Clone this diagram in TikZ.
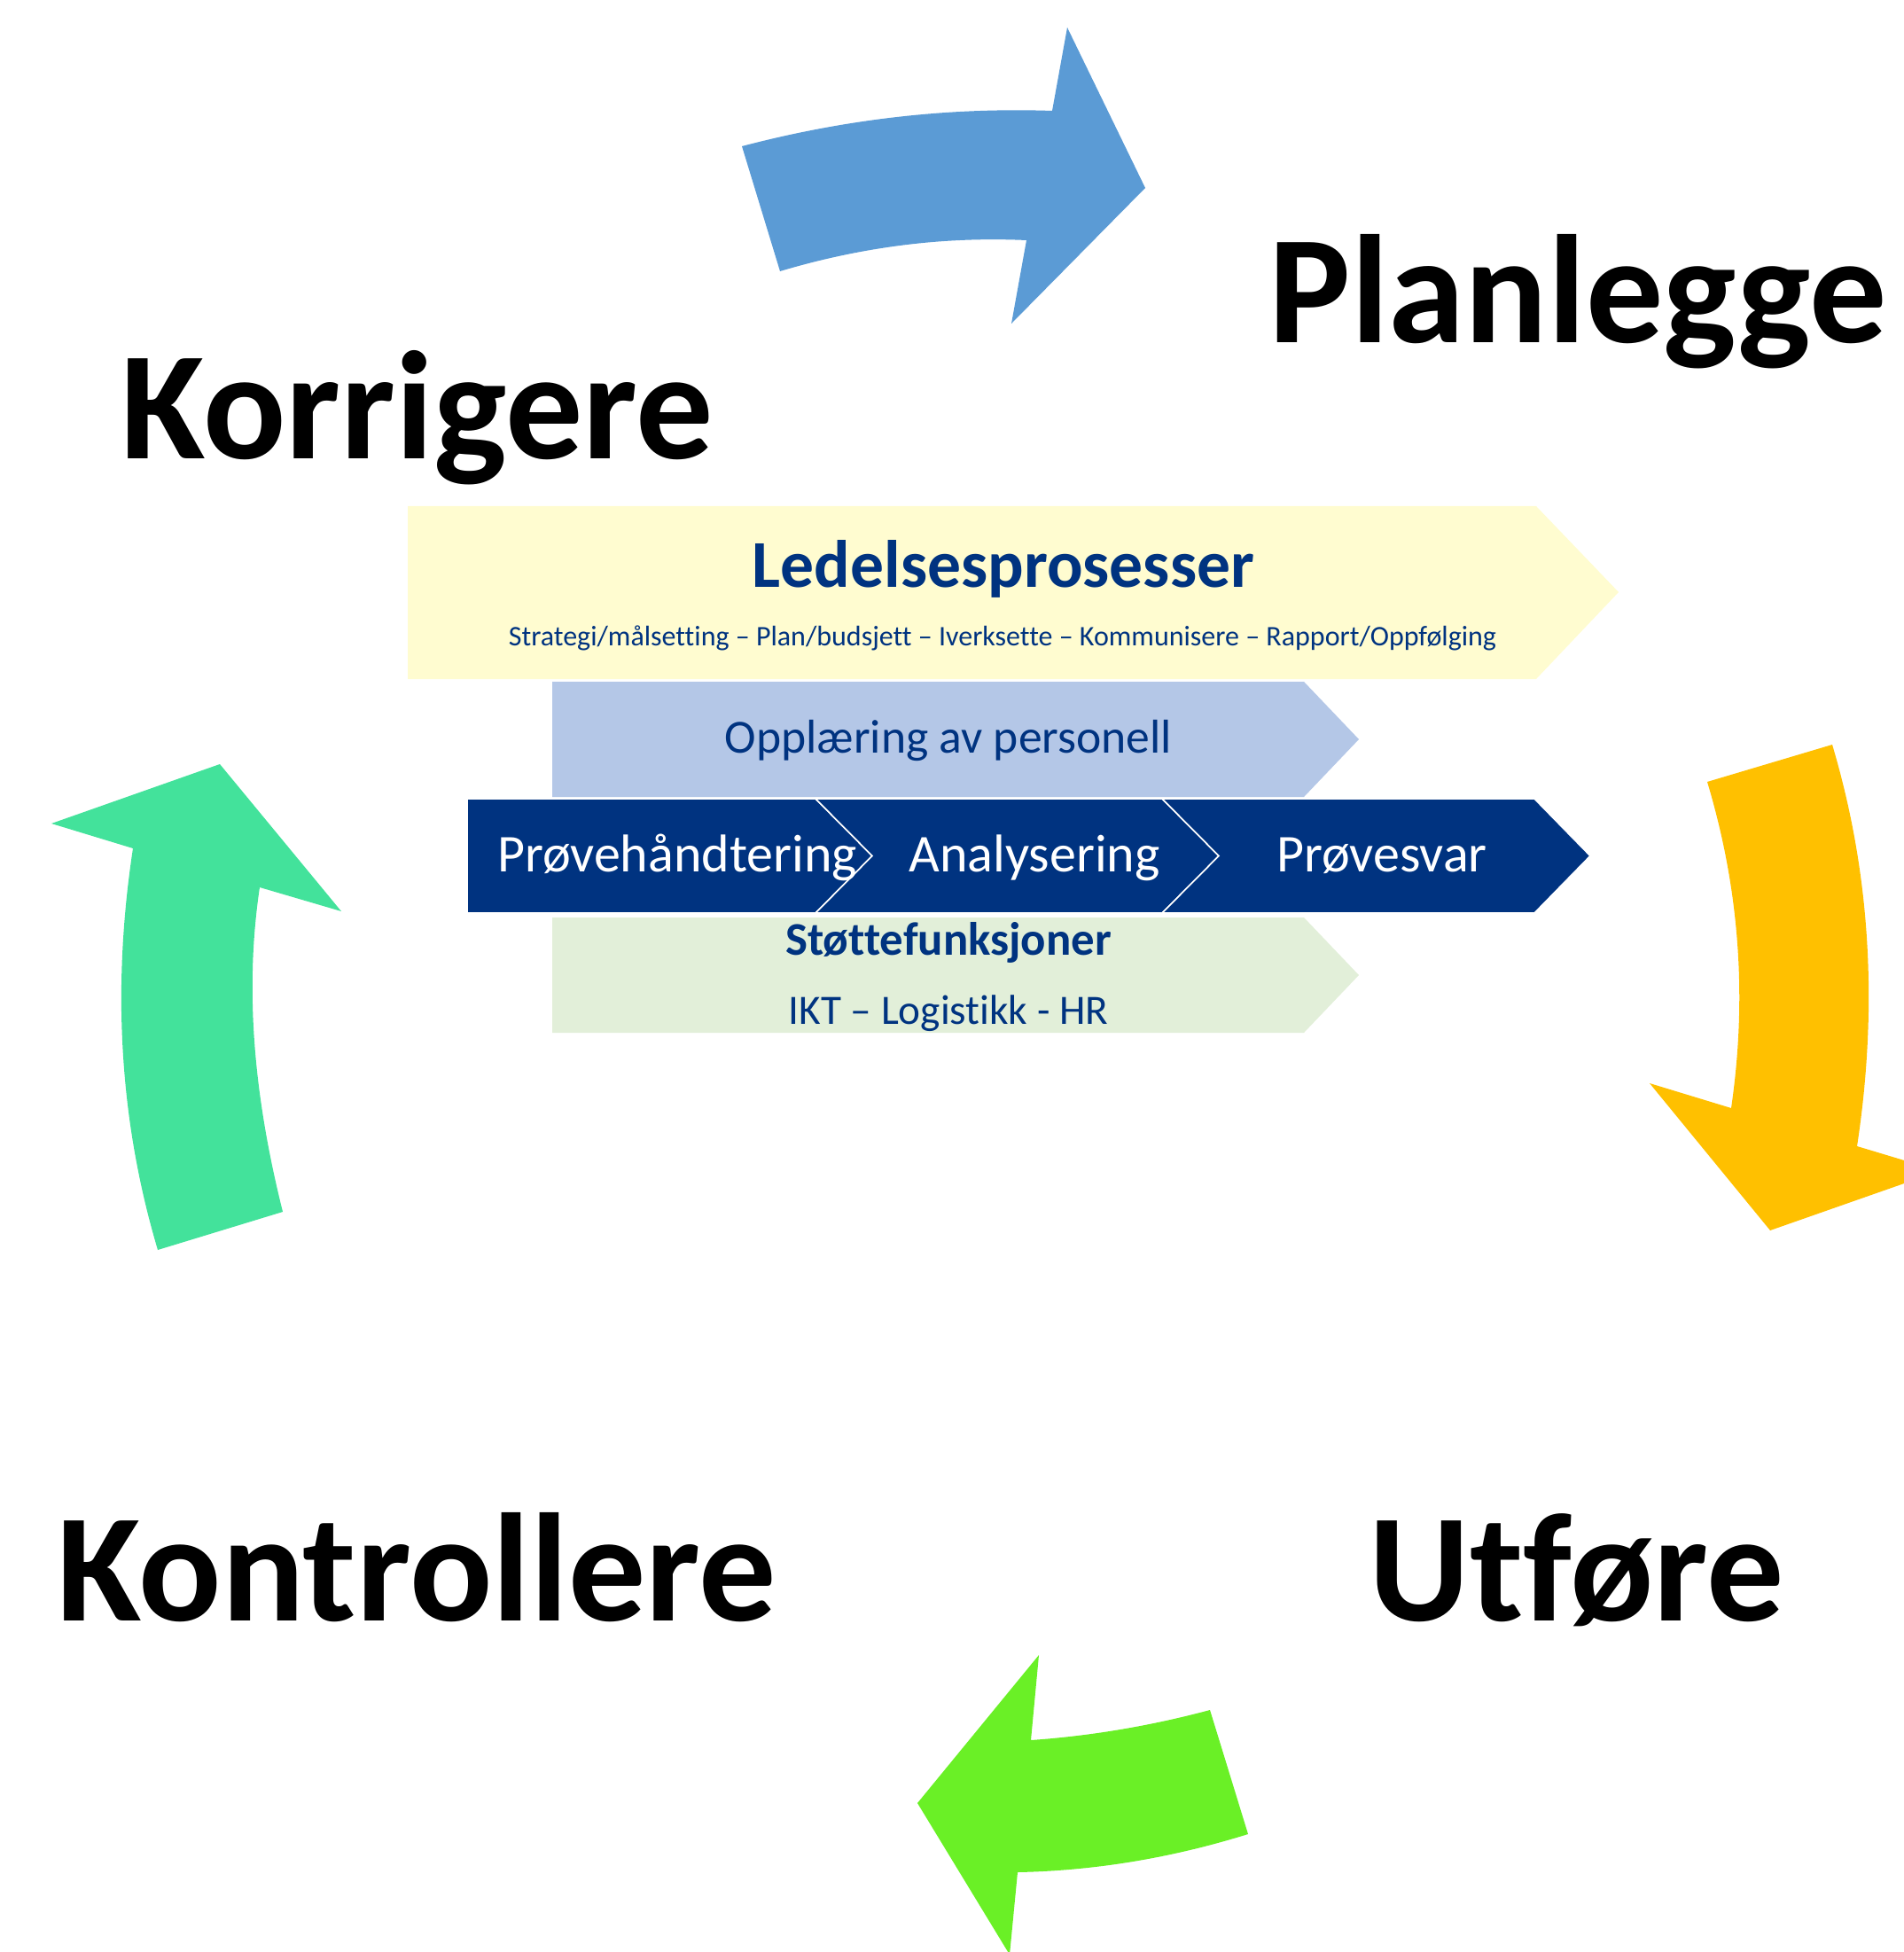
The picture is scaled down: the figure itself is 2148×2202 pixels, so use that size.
\documentclass[tikz,border=0pt]{standalone}
\usepackage{fontspec}
\setmainfont{Carlito}[Ligatures=CommonOff]
\usepackage{tikz}

\begin{document}
\begin{tikzpicture}[x=0.25pt,y=0.25pt,yscale=-1,xscale=1,
    bigword/.style={anchor=base,inner sep=0pt,font=\fontsize{43.5}{52}\selectfont\bfseries},
    navytext/.style={anchor=base,inner sep=0pt,color={rgb, 255:red, 0; green, 51; blue, 128 }},
    chevtext/.style={anchor=base,inner sep=0pt,color=white,font=\fontsize{15}{18}\selectfont},
    chevshape/.style={fill={rgb, 255:red, 0; green, 51; blue, 128 },draw=white,line width=0.4pt},
    ]
    \useasboundingbox (0,0) rectangle (2148,2202);
    \clip (0,0) rectangle (2148,2202);

    %Shape: Curved Arrow [blue, top]
    \fill [color={rgb, 255:red, 91; green, 155; blue, 213 }] (837,165) .. controls (953.7,134.3) and (1070.3,121) .. (1187,125) -- (1204,31) -- (1292,212) -- (1141,365) -- (1158,271) .. controls (1065.3,266.7) and (972.7,278.3) .. (880,306) -- cycle ;
    %Shape: Curved Arrow [yellow, right]
    \fill [color={rgb, 255:red, 255; green, 192; blue, 0 }] (2067,840) -- (1926,882) .. controls (1963,1005) and (1971,1127) .. (1953,1250) -- (1861,1222) -- (1997,1388) -- (2188,1321) -- (2095,1293) .. controls (2118,1142) and (2112,991) .. cycle ;
    %Shape: Curved Arrow [lime, bottom]
    \fill [color={rgb, 255:red, 106; green, 240; blue, 38 }] (1365,1929) .. controls (1297.7,1947) and (1230.3,1958.3) .. (1163,1963) -- (1172,1867) -- (1035,2034) -- (1139,2205) -- (1148,2112) .. controls (1234.7,2110.3) and (1321.3,2096) .. (1408,2069) -- cycle ;
    %Shape: Curved Arrow [green, left]
    \fill [color={rgb, 255:red, 67; green, 226; blue, 155 }] (178,1410) -- (319,1367) .. controls (288.5,1245) and (274.7,1123) .. (293,1001) -- (385,1028) -- (248,862) -- (58,929) -- (150,957) .. controls (127,1108) and (133,1259) .. cycle ;

    %Shape: Pentagon [Ledelse]
    \fill [color={rgb, 255:red, 255; green, 252; blue, 208 }] (460,571) -- (1733,571) -- (1826,668) -- (1733,766) -- (460,766) -- cycle ;
    %Shape: Pentagon [Opplaering]
    \fill [color={rgb, 255:red, 180; green, 199; blue, 231 }] (623,769) -- (1471,769) -- (1533,834) -- (1471,899) -- (623,899) -- cycle ;
    %Shape: Pentagon [Stotte]
    \fill [color={rgb, 255:red, 226; green, 239; blue, 217 }] (623,1035) -- (1471,1035) -- (1533,1100) -- (1471,1165) -- (623,1165) -- cycle ;
    %Shape: Chevrons
    \draw [chevshape] (527,901) -- (920,901) -- (984,965.5) -- (920,1030) -- (527,1030) -- cycle ;
    \draw [chevshape] (920,901) -- (1311,901) -- (1375,965.5) -- (1311,1030) -- (920,1030) -- (984,965.5) -- cycle ;
    \draw [chevshape] (1311,901) -- (1731,901) -- (1794,965.5) -- (1731,1030) -- (1311,1030) -- (1375,965.5) -- cycle ;

    % Text Node
    \draw (1780,387) node (plan) [bigword] {Planlegge};
    % Text Node
    \draw (471,518) node (korr) [bigword] {Korrigere};
    % Text Node
    \draw (470,1828) node (kontr) [bigword] {Kontrollere};
    % Text Node
    \draw (1779,1828) node (utfore) [bigword] {Utføre};
    % Text Node
    \draw (1132,662) node (ledtitle) [navytext,font=\fontsize{18.9}{23}\selectfont\bfseries] {Ledelsesprosesser};
    % Text Node
    \draw (1131,728) node (ledsub) [navytext,font=\fontsize{8}{9.5}\selectfont] {Strategi/målsetting – Plan/budsjett – Iverksette – Kommunisere – Rapport/Oppfølging};
    % Text Node
    \draw (1070,849) node (opplaer) [navytext,font=\fontsize{13.4}{16}\selectfont] {Opplæring av personell};
    % Text Node
    \draw (764,983) node (provehand) [chevtext] {Prøvehåndtering};
    % Text Node
    \draw (1167,983) node (analyse) [chevtext] {Analysering};
    % Text Node
    \draw (1559,983) node (provesvar) [chevtext] {Prøvesvar};
    % Text Node
    \draw (1070,1077) node (stotte) [navytext,font=\fontsize{13.2}{15.5}\selectfont\bfseries] {Støttefunksjoner};
    % Text Node
    \draw (1070,1155) node (ikt) [navytext,font=\fontsize{11.8}{14}\selectfont] {IKT – Logistikk - HR};

\end{tikzpicture}
\end{document}
